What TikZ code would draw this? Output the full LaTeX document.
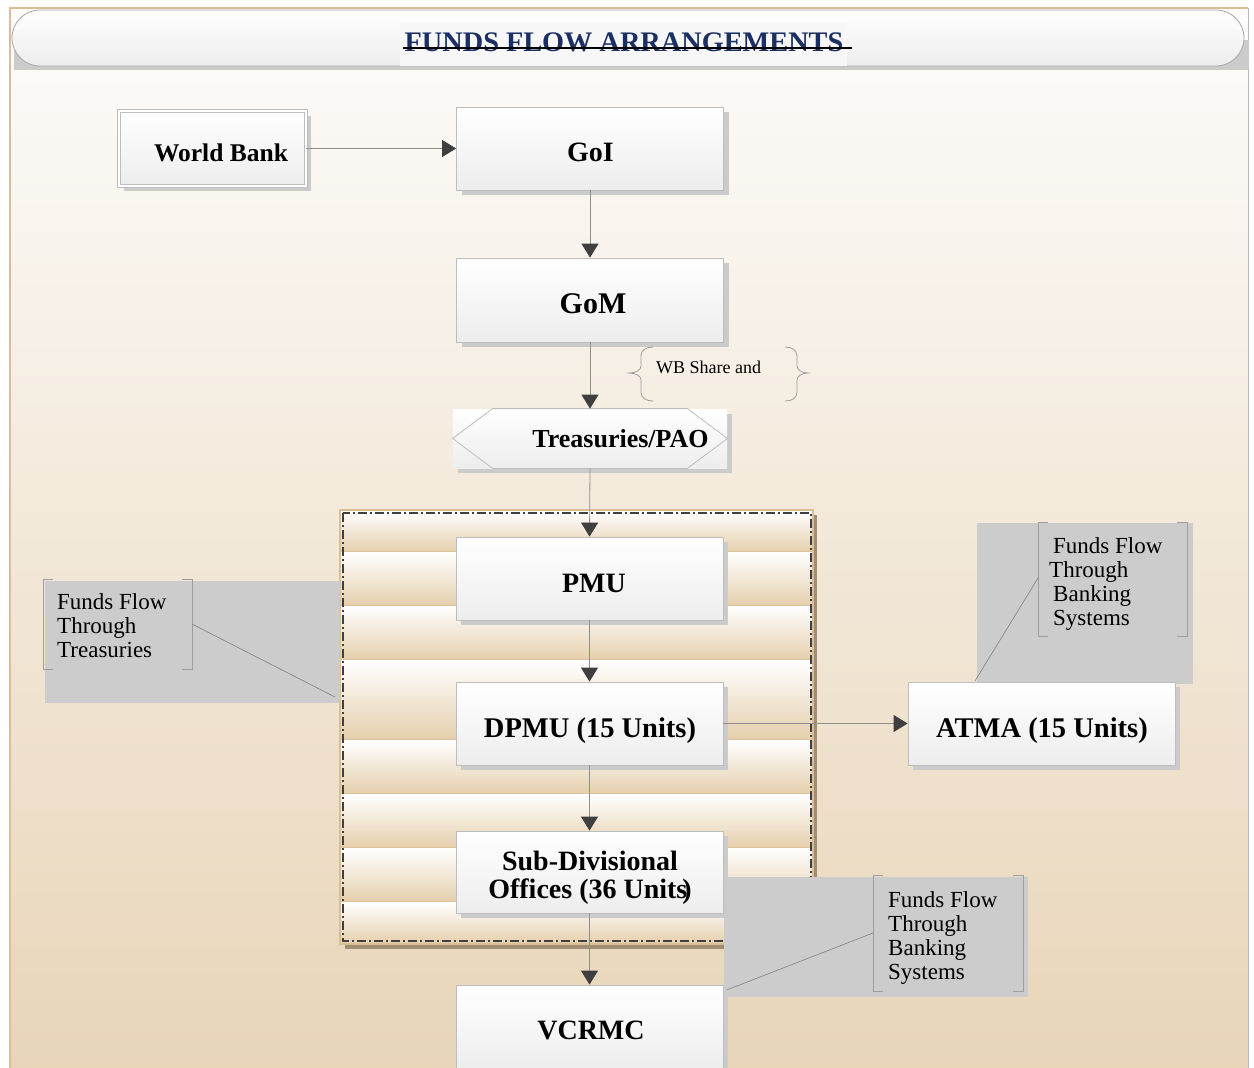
\documentclass[tikz,border=0pt]{standalone}
\usepackage{fontspec}
\setmainfont{Liberation Serif}
\usetikzlibrary{arrows.meta,shadows,calc}

\definecolor{pagetop}{HTML}{FDFCFB}
\definecolor{pagebot}{HTML}{E8D5B8}
\definecolor{frametan}{HTML}{D9BE96}
\definecolor{boxline}{HTML}{BDBDBD}
\definecolor{boxbot}{HTML}{EDEDED}
\definecolor{shadowgray}{HTML}{CBCBCB}
\definecolor{arrowdark}{HTML}{3F3F3F}
\definecolor{linegray}{HTML}{8F8F8F}
\definecolor{notegray}{HTML}{CCCCCC}
\definecolor{bracketgray}{HTML}{9E9E9E}
\definecolor{titlenavy}{HTML}{1B2F63}
\definecolor{titleline}{HTML}{A8A8A8}
\definecolor{bandtan}{HTML}{E5CFAC}
\definecolor{septan}{HTML}{DCC29A}
\definecolor{groupshadow}{HTML}{A08D72}

\tikzset{
  flowbox/.style={rectangle, draw=boxline, line width=0.8pt, top color=white,
    bottom color=boxbot, minimum width=267pt, minimum height=83pt, inner sep=0pt,
    drop shadow={shadow xshift=5pt, shadow yshift=-5pt, fill=shadowgray, opacity=1}},
  boxtext/.style={font=\fontsize{28}{30}\selectfont\bfseries, inner sep=0pt, anchor=base},
  flow/.style={draw=linegray, line width=0.8pt,
    -{Triangle[length=14pt, width=17pt, color=arrowdark]}},
  notetext/.style={font=\fontsize{23}{24}\selectfont, align=left, anchor=north west,
    inner sep=0pt},
  bracket/.style={draw=bracketgray, line width=0.8pt},
  pointer/.style={draw=gray, line width=0.6pt},
  band/.style={top color=white, bottom color=bandtan},
}

\begin{document}
\begin{tikzpicture}[x=1pt,y=-1pt]
\useasboundingbox (0,0) rectangle (1254,1068);
\fill[white] (0,0) rectangle (1254,1068);

% page background and frame
\shade[top color=pagetop, bottom color=pagebot] (10,8) rectangle (1248,1068);
\draw[frametan, line width=1.4pt] (10,1068) -- (10,8) -- (1248,8);
\draw[gray!55, line width=0.8pt] (1248,8) -- (1248,1068);

% title bar
\fill[shadowgray] (14,40) rectangle (1249,70);
\node[draw=titleline, line width=0.8pt, rounded corners=28pt, top color=white,
  bottom color=boxbot, minimum width=1232pt, minimum height=56pt] (titlebar) at (628,38) {};
\fill[black!3] (400,23) rectangle (847,66);
\node[font=\fontsize{28.3}{30}\selectfont\bfseries, text=titlenavy, inner sep=0pt,
  anchor=base] (ttl) at (624,51) {FUNDS FLOW ARRANGEMENTS};
\draw[black, line width=1.3pt] ($(ttl.base west)+(-1,-3)$) -- ($(ttl.base east)+(8,-3)$);

% grouped block: banded background with dash-dot frame
\fill[groupshadow] (345,515) rectangle (817,949);
\foreach \ya/\yb in {511/552, 552/606, 606/660, 660/740, 740/794, 794/848, 848/902, 902/944}{
  \shade[band] (341,\ya) rectangle (813,\yb);
  \draw[septan, line width=1.6pt] (341,\yb) -- (813,\yb);
}
\draw[frametan, line width=2pt] (340,510) rectangle (813,944);
\draw[arrowdark, line width=1.3pt, dash pattern=on 9pt off 3pt on 2pt off 3pt]
  (343,513) rectangle (811,941);

% callout: Treasuries
\fill[notegray] (45,581) rectangle (340,703);
\coordinate (nlL) at (43,579);
\coordinate (nlR) at (192,579);
\draw[bracket] ($(nlL)+(10,0)$) -- (nlL) -- ($(nlL)+(0,90)$) -- ($(nlL)+(10,90)$);
\draw[bracket] ($(nlR)+(-10,0)$) -- (nlR) -- ($(nlR)+(0,90)$) -- ($(nlR)+(-10,90)$);
\node[notetext] (noteleft) at (57,593) {Funds Flow\\Through\\Treasuries};
\coordinate (noteleftTip) at (335,697);
\draw[pointer] ($(nlR)+(0,45)$) -- (noteleftTip);

% callout: banking (upper right)
\fill[notegray] (977,523) rectangle (1193,684);
\coordinate (nrL) at (1038,522);
\coordinate (nrR) at (1187,522);
\draw[bracket] ($(nrL)+(10,0)$) -- (nrL) -- ($(nrL)+(0,114)$) -- ($(nrL)+(10,114)$);
\draw[bracket] ($(nrR)+(-10,0)$) -- (nrR) -- ($(nrR)+(0,114)$) -- ($(nrR)+(-10,114)$);
\node[notetext] (noteright) at (1049,537)
  {\hspace*{4pt}Funds Flow\\Through\\\hspace*{4pt}Banking\\\hspace*{4pt}Systems};
\coordinate (noterightTip) at (975,681);
\draw[pointer] ($(nrL)+(0,56)$) -- (noterightTip);

% callout: banking (lower)
\fill[notegray] (724,877) rectangle (1028,997);
\coordinate (nbL) at (873,875);
\coordinate (nbR) at (1023,875);
\draw[bracket] ($(nbL)+(10,0)$) -- (nbL) -- ($(nbL)+(0,116)$) -- ($(nbL)+(10,116)$);
\draw[bracket] ($(nbR)+(-10,0)$) -- (nbR) -- ($(nbR)+(0,116)$) -- ($(nbR)+(-10,116)$);
\node[notetext] (notebottom) at (888,891) {Funds Flow\\Through\\Banking\\Systems};
\coordinate (notebottomTip) at (724,991);
\draw[pointer] ($(nbL)+(0,58)$) -- (notebottomTip);

% boxes
\node[flowbox, double=white, double distance=2.6pt, line width=0.7pt,
  minimum width=187pt, minimum height=75pt] (wb) at (212.5,148.5) {};
\node[boxtext, font=\fontsize{25.5}{28}\selectfont\bfseries] (wbT) at (221,161) {World Bank};

\node[flowbox] (goi) at (590,148.5) {};
\node[boxtext] (goiT) at (590.5,161) {GoI};

\node[flowbox, minimum height=84pt] (gom) at (590,300) {};
\node[boxtext, font=\fontsize{30}{32}\selectfont\bfseries] (gomT) at (593,313) {GoM};

\node[flowbox, draw=none, minimum width=274pt, minimum height=59pt] (treas) at (590,438.5) {};
\draw[boxline, line width=0.8pt] (treas.west) -- ($(treas.north west)+(40,0)$)
  -- ($(treas.north east)+(-40,0)$) -- (treas.east) -- ($(treas.south east)+(-40,0)$)
  -- ($(treas.south west)+(40,0)$) -- cycle;
\node[boxtext, font=\fontsize{26}{28}\selectfont\bfseries] (treasT) at (620.5,447) {Treasuries/PAO};

\node[flowbox] (pmu) at (589.5,578.5) {};
\node[boxtext] (pmuT) at (594,592) {PMU};

\node[flowbox] (dpmu) at (589.5,723.5) {};
\node[boxtext, font=\fontsize{28.5}{30}\selectfont\bfseries] (dpmuT) at (590,737) {DPMU (15 Units)};

\node[flowbox] (atma) at (1041.5,723.5) {};
\node[boxtext, font=\fontsize{28.5}{30}\selectfont\bfseries] (atmaT) at (1042,737) {ATMA (15 Units)};

\node[flowbox, minimum height=82pt] (sdo) at (589.5,872) {};
\node[boxtext] (sdoT1) at (590,870) {Sub-Divisional};
\node[boxtext] (sdoT2) at (590,898) {Offices (36 Units\kern-5pt)};

\node[flowbox] (vcrmc) at (589.5,1026.5) {};
\node[boxtext] (vcrmcT) at (591,1039) {VCRMC};

% brace note between GoM and Treasuries
\draw[bracket] (653,347) .. controls (646,347) and (641,350) .. (641,356) -- (641,366)
  .. controls (641,370) and (636,373) .. (629,373)
  .. controls (636,373) and (641,376) .. (641,380) -- (641,392)
  .. controls (641,398) and (646,401) .. (653,401);
\draw[bracket] (785,347) .. controls (792,347) and (797,350) .. (797,356) -- (797,366)
  .. controls (797,370) and (802,373) .. (808,373)
  .. controls (802,373) and (797,376) .. (797,380) -- (797,392)
  .. controls (797,398) and (792,401) .. (785,401);
\node[font=\fontsize{18}{20}\selectfont, inner sep=0pt, anchor=base west] (wbshare) at (656,373) {WB Share and};

% connectors
\draw[flow] (wb.east) -- (goi.west);
\draw[flow] (goi.south) -- (gom.north);
\draw[flow] (gom.south) -- (treas.north);
\draw[flow] (treas.south) -- (pmu.north);
\draw[flow] (pmu.south) -- (dpmu.north);
\draw[flow] (dpmu.south) -- (sdo.north);
\draw[flow] (sdo.south) -- (vcrmc.north);
\draw[flow] (dpmu.east) -- (atma.west);
\end{tikzpicture}
\end{document}
